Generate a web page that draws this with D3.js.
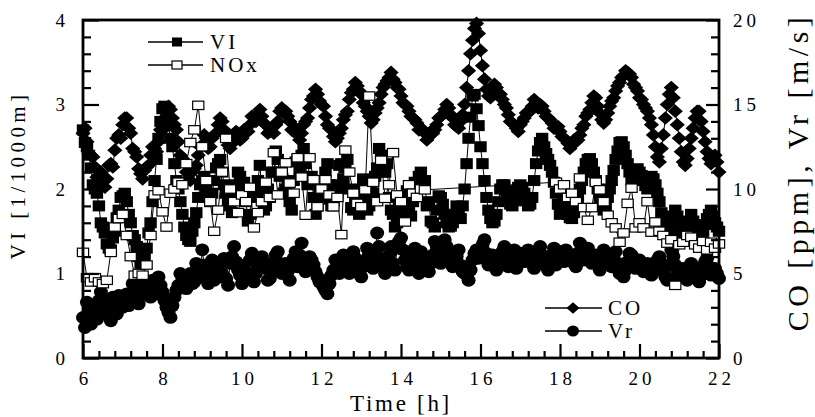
<!DOCTYPE html>
<html>
<head>
<meta charset="utf-8">
<script src="https://cdn.jsdelivr.net/npm/d3@7"></script>
<style>
  html, body { margin: 0; padding: 0; background: #fff; }
  svg { display: block; font-family: "Liberation Serif", "Times New Roman", serif; }
</style>
</head>
<body>
<svg id="chart" width="815" height="417"></svg>
<script>
// CO, VI and Vr are logged every 0.05 h, NOx every 0.1 h, from 6 h to 22 h
const startHour = 6;
const fineStep = 0.05;
const noxStep = 0.1;

// CO concentration [ppm] (right axis), one row per hour
const coValues = [
  13.3, 13.6, 12.8, 12.1, 12.0, 11.9, 11.3, 10.7, 10.8, 11.0, 10.4, 10.1, 10.6, 11.4, 11.5, 11.3, 12.3, 13.0, 13.2, 13.0,
  13.8, 14.2, 14.2, 13.6, 13.3, 12.4, 12.2, 11.9, 11.2, 10.9, 10.6, 11.1, 11.3, 11.4, 12.0, 12.5, 12.4, 12.2, 12.8, 13.5,
  13.5, 13.6, 14.3, 14.9, 14.7, 14.2, 13.8, 13.5, 12.8, 12.0, 11.8, 11.6, 11.0, 10.6, 10.5, 11.0, 11.2, 11.4, 12.0, 12.5,
  12.6, 13.2, 13.0, 12.4, 12.5, 13.0, 13.2, 13.3, 13.8, 14.2, 14.0, 13.5, 13.2, 12.6, 12.4, 12.9, 12.8, 13.4, 13.3, 12.9,
  13.0, 13.5, 13.4, 13.4, 13.8, 14.3, 14.2, 14.0, 14.4, 14.7, 14.3, 13.9, 13.8, 13.3, 13.4, 13.6, 13.3, 13.8, 14.0, 14.6,
  14.8, 14.5, 14.6, 14.3, 14.0, 13.5, 13.5, 13.6, 13.2, 12.9, 13.3, 13.8, 14.0, 14.2, 14.8, 15.3, 15.5, 15.9, 15.6, 15.2,
  15.0, 14.9, 14.3, 13.8, 13.6, 13.5, 13.1, 12.8, 13.0, 13.3, 13.6, 14.1, 14.4, 14.6, 15.3, 15.7, 15.9, 16.3, 16.1, 15.8,
  15.6, 15.1, 14.9, 14.6, 14.3, 13.9, 14.1, 14.5, 14.8, 15.1, 15.6, 16.0, 16.2, 16.4, 16.6, 16.9, 16.5, 16.3, 16.0, 15.9,
  15.5, 15.1, 15.0, 14.9, 14.6, 14.3, 14.2, 14.1, 13.9, 13.5, 13.6, 13.5, 13.3, 12.9, 13.1, 13.4, 13.3, 13.5, 13.8, 14.2,
  14.3, 14.4, 14.7, 15.0, 14.8, 14.4, 14.2, 13.8, 13.7, 13.6, 14.0, 14.4, 15.0, 16.0, 17.0, 18.0, 18.8, 19.5, 19.8, 19.2,
  18.2, 17.3, 16.5, 15.9, 15.5, 15.4, 15.8, 16.2, 16.0, 15.7, 15.6, 15.3, 15.0, 14.8, 14.4, 14.0, 13.9, 13.8, 13.6, 13.4,
  13.8, 14.0, 14.2, 14.5, 14.6, 14.6, 14.9, 15.3, 15.1, 14.8, 15.0, 14.9, 14.6, 14.3, 14.2, 14.1, 13.9, 13.6, 13.6, 13.7,
  13.4, 13.1, 13.0, 12.9, 12.7, 12.4, 12.6, 12.9, 12.8, 12.9, 13.2, 13.6, 13.8, 14.3, 14.5, 14.7, 15.1, 15.5, 15.4, 14.9,
  14.5, 14.1, 13.9, 14.1, 14.5, 14.9, 15.2, 15.4, 15.8, 16.1, 16.3, 16.6, 16.7, 17.0, 16.9, 16.8, 16.6, 16.2, 16.0, 15.8,
  15.4, 15.3, 15.0, 14.8, 14.6, 14.2, 13.8, 13.2, 12.5, 11.9, 11.6, 12.4, 13.2, 14.2, 15.0, 15.6, 16.0, 15.4, 14.6, 13.8,
  13.0, 12.2, 11.6, 11.4, 11.8, 12.4, 13.0, 13.6, 14.2, 14.6, 14.6, 14.0, 13.4, 12.8, 12.2, 11.8, 11.5, 11.9, 12.0, 11.6,
  11.0
];

// Visibility index VI [1/1000m] (left axis), one row per hour
const viValues = [
  2.7, 2.55, 2.5, 2.4, 2.25, 2.05, 2.0, 1.95, 1.8, 1.6, 1.55, 1.48, 1.35, 1.3, 1.28, 1.42, 1.5, 1.66, 1.75, 1.9,
  1.92, 1.95, 1.85, 1.7, 1.6, 1.45, 1.4, 1.32, 1.2, 1.12, 1.12, 1.18, 1.3, 1.48, 1.6, 1.85, 2.1, 2.35, 2.6, 2.8,
  2.95, 2.98, 2.9, 2.75, 2.6, 2.5, 2.3, 2.1, 2.0, 1.85, 1.7, 1.55, 1.45, 1.4, 1.38, 1.5, 1.6, 1.72, 1.9, 2.05,
  2.1, 2.15, 2.0, 1.9, 1.85, 1.95, 2.1, 2.25, 2.3, 2.35, 2.2, 2.05, 1.95, 1.85, 1.8, 1.72, 1.9, 2.05, 2.2, 2.15,
  2.0, 2.08, 1.85, 1.62, 1.7, 1.95, 1.9, 1.92, 2.1, 2.28, 2.0, 1.75, 1.8, 2.0, 1.9, 2.2, 2.2, 2.45, 2.35, 2.15,
  2.2, 1.95, 2.0, 2.08, 1.85, 1.75, 2.1, 2.32, 2.35, 2.2, 2.4, 2.48, 2.3, 2.05, 2.1, 2.15, 1.9, 1.7, 1.8, 2.0,
  2.0, 1.88, 2.2, 2.3, 2.05, 1.8, 1.85, 2.05, 2.0, 2.28, 2.3, 2.12, 2.25, 2.35, 2.0, 1.78, 1.75, 1.9, 1.8, 1.7,
  2.0, 2.12, 1.9, 1.75, 1.8, 2.02, 1.95, 2.15, 2.25, 2.48, 2.4, 2.2, 2.2, 2.3, 1.9, 1.75, 1.7, 1.55, 1.6, 1.8,
  1.75, 1.65, 1.9, 1.98, 1.75, 1.68, 1.85, 2.08, 2.05, 2.15, 2.2, 2.02, 2.1, 1.8, 1.85, 1.62, 1.6, 1.55, 1.75, 1.92,
  1.9, 1.82, 1.7, 1.6, 1.55, 1.56, 1.6, 1.7, 1.8, 1.75, 1.65, 1.8, 2.0, 2.3, 2.6, 2.85, 3.1, 3.12, 2.95, 2.75,
  2.5, 2.3, 2.1, 1.9, 1.75, 1.65, 1.6, 1.62, 1.7, 1.85, 2.0, 2.05, 2.05, 1.98, 1.9, 1.82, 1.8, 1.86, 1.95, 2.02,
  2.05, 2.02, 1.95, 1.86, 1.8, 1.82, 1.9, 2.1, 2.3, 2.45, 2.55, 2.6, 2.5, 2.42, 2.35, 2.28, 2.2, 2.08, 1.95, 1.82,
  1.7, 1.78, 1.85, 1.78, 1.7, 1.66, 1.65, 1.72, 1.8, 1.9, 2.0, 2.1, 2.2, 2.3, 2.35, 2.36, 2.3, 2.2, 2.1, 2.0,
  1.9, 1.8, 1.75, 1.8, 1.9, 2.0, 2.1, 2.22, 2.35, 2.45, 2.55, 2.56, 2.5, 2.4, 2.3, 2.2, 2.1, 2.14, 2.2, 2.24,
  2.2, 2.16, 2.1, 2.04, 2.0, 2.08, 2.15, 2.12, 2.05, 1.95, 1.85, 1.72, 1.6, 1.5, 1.45, 1.52, 1.6, 1.68, 1.75, 1.68,
  1.6, 1.52, 1.45, 1.48, 1.55, 1.62, 1.7, 1.62, 1.55, 1.46, 1.4, 1.44, 1.5, 1.58, 1.65, 1.7, 1.75, 1.68, 1.6, 1.55,
  1.5
];

// NOx (left axis), one row per hour; null where no reading was logged
const noxValues = [
  1.25, 0.95, 0.9, 0.95, 0.9, 0.88, 0.92, 1.25, 1.55, 1.65,
  1.7, 1.45, 1.2, 0.98, 1.0, 0.98, 1.1, 1.45, 1.93, 1.98,
  1.73, 1.55, 1.95, 2.0, 2.08, 2.05, 2.3, 2.55, 2.7, 2.99,
  2.5, 2.1, 1.85, 1.5, 1.75, 2.2, 2.6, 2.0, 1.85, 1.72,
  1.93, 1.85, 2.02, 1.54, 1.72, 1.85, 2.08, 1.9, 2.43, 1.93,
  2.2, 2.31, 2.07, 1.95, 2.37, 2.14, 1.69, 2.37, 2.11, 1.79,
  2.0, 2.11, 1.93, 1.79, 1.9, 1.46, 2.46, 2.2, 1.95, 1.83,
  1.79, 1.99, 3.1, 2.08, 1.85, 2.34, 1.89, 2.05, 2.43, 1.93,
  1.85, 1.61, 2.05, 1.95, 1.9, 2.0, 1.99, null, null, null,
  null, null, null, null, null, null, null, null, null, null,
  null, null, null, null, null, null, null, null, null, null,
  null, null, null, null, null, null, null, null, null, 2.08,
  2.0, 2.05, 1.9, 1.95, 1.85, 2.13, 1.78, 1.63, 1.78, 2.08,
  1.99, 1.85, 1.69, 1.6, 1.54, 1.37, 1.48, 1.83, 2.01, 1.54,
  1.6, 1.54, 1.85, 1.49, 1.61, 1.5, 1.45, 1.36, 1.4, 0.86,
  1.34, 1.37, 1.45, 1.43, 1.34, 1.3, 1.38, 1.28, 1.37, 1.3,
  1.35
];

// Wind speed Vr [m/s] (right axis), one row per hour
const vrValues = [
  2.4, 1.8, 3.3, 2.7, 2.0, 3.0, 2.9, 2.3, 3.4, 3.9, 2.6, 3.1, 3.5, 2.8, 2.2, 3.6, 3.3, 2.6, 3.7, 3.2,
  3.0, 3.5, 3.8, 3.1, 3.4, 4.4, 4.1, 3.6, 3.2, 3.8, 3.9, 4.5, 4.4, 3.7, 3.6, 4.6, 4.2, 3.8, 4.8, 4.3,
  3.9, 3.4, 3.0, 2.7, 2.4, 3.1, 3.6, 4.0, 4.3, 5.0, 4.7, 4.3, 4.1, 4.8, 5.0, 4.4, 4.5, 5.6, 5.3, 4.8,
  6.4, 5.5, 4.9, 4.4, 5.2, 5.8, 4.6, 5.1, 5.5, 4.8, 5.0, 5.9, 4.7, 4.3, 5.6, 6.0, 6.6, 5.7, 5.2, 4.9,
  4.4, 5.5, 5.1, 4.8, 5.8, 6.2, 4.5, 5.0, 5.4, 5.9, 6.0, 5.5, 5.3, 4.6, 4.7, 5.2, 5.7, 6.1, 6.3, 5.6,
  5.0, 5.3, 5.6, 5.1, 4.6, 5.4, 5.9, 6.3, 5.4, 6.1, 6.8, 5.9, 5.1, 5.5, 6.0, 5.8, 5.5, 5.1, 4.8, 4.5,
  4.6, 4.2, 4.0, 3.8, 4.4, 4.9, 5.2, 5.8, 5.6, 5.0, 5.3, 6.1, 5.9, 5.4, 5.0, 5.7, 6.3, 5.9, 5.5, 5.0,
  4.8, 5.4, 5.8, 6.5, 6.2, 5.6, 5.3, 6.3, 7.4, 6.6, 5.9, 5.4, 5.0, 5.6, 6.1, 6.6, 5.6, 5.2, 6.5, 6.9,
  7.1, 6.4, 5.8, 5.4, 5.2, 5.7, 6.0, 6.5, 5.5, 5.0, 6.3, 6.0, 5.7, 5.3, 5.1, 5.6, 6.1, 6.9, 6.6, 6.0,
  5.6, 6.3, 7.0, 6.6, 6.2, 5.8, 5.4, 5.9, 6.0, 6.4, 5.5, 5.1, 5.0, 5.4, 4.6, 5.2, 5.8, 6.2, 6.4, 5.9,
  6.3, 6.7, 7.0, 6.2, 5.5, 5.8, 6.1, 5.6, 5.2, 5.5, 5.9, 6.3, 6.6, 6.0, 5.4, 5.7, 6.0, 6.4, 5.3, 5.8,
  6.2, 5.9, 5.7, 6.1, 6.4, 6.0, 5.6, 5.3, 6.0, 6.3, 6.6, 6.1, 5.8, 5.5, 5.2, 5.7, 6.1, 6.5, 5.5, 5.9,
  6.3, 6.0, 5.7, 6.4, 6.2, 5.8, 6.1, 5.6, 5.4, 6.2, 6.8, 6.4, 5.8, 6.2, 6.5, 5.9, 5.6, 6.0, 6.1, 5.6,
  5.2, 5.8, 6.4, 6.1, 5.9, 5.5, 5.4, 5.9, 6.3, 5.6, 5.0, 5.3, 4.8, 5.2, 5.7, 6.2, 6.1, 5.7, 5.3, 5.6,
  5.8, 5.4, 5.1, 5.5, 5.6, 5.2, 4.9, 5.1, 5.4, 5.8, 6.0, 5.6, 5.2, 4.8, 4.6, 5.5, 6.4, 6.0, 5.5, 5.1,
  4.8, 5.0, 5.3, 4.9, 4.6, 5.1, 5.6, 5.3, 5.0, 4.7, 4.5, 4.9, 5.4, 5.7, 5.9, 5.4, 4.9, 5.0, 5.3, 5.0,
  4.7
];

// Axis tick labels
const hourTicks = [6, 8, 10, 12, 14, 16, 18, 20, 22];
const viTicks = [0, 1, 2, 3, 4];
const coTicks = [0, 5, 10, 15, 20];

// ---------------------------------------------------------------
const svg = d3.select("#chart");
const box = { left: 83, right: 719, top: 20, bottom: 358 };

const x = d3.scaleLinear().domain([6, 22]).range([box.left, box.right]);
const yL = d3.scaleLinear().domain([0, 4]).range([box.bottom, box.top]);
const yR = d3.scaleLinear().domain([0, 20]).range([box.bottom, box.top]);

const toPoints = (vals, step) => vals
  .map((v, i) => ({ t: startHour + i * step, v }))
  .filter(d => d.v !== null);

const coPts = toPoints(coValues, fineStep);
const viPts = toPoints(viValues, fineStep);
const vrPts = toPoints(vrValues, fineStep);
const noxPts = toPoints(noxValues, noxStep);

// marker half extents, px
const DIA_W = 7.6, DIA_H = 6.8;
const VI_W = 6.2, VI_H = 5.5;
const NOX_W = 5.6, NOX_H = 4.2;
const VR_RX = 7.0, VR_RY = 6.4;

const plot = svg.append("g");

function drawLine(pts, yScale) {
  plot.append("path")
    .datum(pts)
    .attr("fill", "none")
    .attr("stroke", "#000")
    .attr("stroke-width", 1)
    .attr("d", d3.line().x(d => x(d.t)).y(d => yScale(d.v)));
}

const diamond = (w, h) => `M0,${-h}L${w},0L0,${h}L${-w},0Z`;

// Vr: filled circles
drawLine(vrPts, yR);
plot.append("g").selectAll("ellipse").data(vrPts).join("ellipse")
  .attr("cx", d => x(d.t)).attr("cy", d => yR(d.v))
  .attr("rx", VR_RX).attr("ry", VR_RY).attr("fill", "#000");

// CO: filled diamonds
drawLine(coPts, yR);
plot.append("g").selectAll("path").data(coPts).join("path")
  .attr("transform", d => `translate(${x(d.t)},${yR(d.v)})`)
  .attr("d", diamond(DIA_W, DIA_H)).attr("fill", "#000");

// VI: filled squares
drawLine(viPts, yL);
plot.append("g").selectAll("rect").data(viPts).join("rect")
  .attr("x", d => x(d.t) - VI_W).attr("y", d => yL(d.v) - VI_H)
  .attr("width", 2 * VI_W).attr("height", 2 * VI_H).attr("fill", "#000");

// NOx: open squares
drawLine(noxPts, yL);
plot.append("g").selectAll("rect").data(noxPts).join("rect")
  .attr("x", d => x(d.t) - NOX_W).attr("y", d => yL(d.v) - NOX_H)
  .attr("width", 2 * NOX_W).attr("height", 2 * NOX_H)
  .attr("fill", "#fff").attr("stroke", "#000").attr("stroke-width", 1.2);

// ---------------------------------------------------------------
// Axes: ticks point inward, domain lines replaced by a frame
function styleAxis(g, fontSize, spacing) {
  g.select(".domain").remove();
  g.selectAll(".tick line").attr("stroke", "#000").attr("stroke-width", 2.2);
  g.selectAll(".tick text")
    .attr("fill", "#000")
    .style("font-size", fontSize + "px")
    .style("font-family", '"Liberation Serif", "Times New Roman", serif')
    .style("letter-spacing", spacing + "px");
}

const minorHours = d3.range(0, 41).map(i => 6 + i * 0.4).filter(h => Math.abs(h / 2 - Math.round(h / 2)) > 1e-6);
const minorVI = d3.range(0, 21).map(i => i * 0.2).filter(v => Math.abs(v - Math.round(v)) > 1e-6);
const minorCO = d3.range(0, 21).filter(v => v % 5 !== 0);

// bottom
svg.append("g").attr("transform", `translate(0,${box.bottom})`)
  .call(d3.axisBottom(x).tickValues(minorHours).tickSize(-7).tickFormat(""))
  .call(g => styleAxis(g, 18, 0));
svg.append("g").attr("transform", `translate(0,${box.bottom})`)
  .call(d3.axisBottom(x).tickValues(hourTicks).tickSize(-14).tickPadding(14).tickFormat(d3.format("d")))
  .call(g => styleAxis(g, 19, 4))
  .call(g => g.selectAll(".tick text").attr("dx", "2px"));

// left
svg.append("g").attr("transform", `translate(${box.left},0)`)
  .call(d3.axisLeft(yL).tickValues(minorVI).tickSize(-8).tickFormat(""))
  .call(g => styleAxis(g, 18, 0));
svg.append("g").attr("transform", `translate(${box.left},0)`)
  .call(d3.axisLeft(yL).tickValues(viTicks).tickSize(-16).tickPadding(18).tickFormat(d3.format("d")))
  .call(g => styleAxis(g, 19, 0));

// right
svg.append("g").attr("transform", `translate(${box.right},0)`)
  .call(d3.axisRight(yR).tickValues(minorCO).tickSize(-8).tickFormat(""))
  .call(g => styleAxis(g, 18, 0));
svg.append("g").attr("transform", `translate(${box.right},0)`)
  .call(d3.axisRight(yR).tickValues(coTicks).tickSize(-13).tickPadding(14).tickFormat(d3.format("d")))
  .call(g => styleAxis(g, 19, 4));

// frame
svg.append("rect")
  .attr("x", box.left).attr("y", box.top)
  .attr("width", box.right - box.left).attr("height", box.bottom - box.top)
  .attr("fill", "none").attr("stroke", "#000").attr("stroke-width", 2.8);

// ---------------------------------------------------------------
// Axis titles
svg.append("text")
  .attr("transform", "translate(25,175) rotate(-90)")
  .attr("text-anchor", "middle")
  .style("font-size", "21px").style("letter-spacing", "4.4px")
  .text("VI [1/1000m]");

svg.append("text")
  .attr("transform", "translate(808,172) rotate(-90)")
  .attr("text-anchor", "middle")
  .style("font-size", "30px").style("letter-spacing", "4.5px")
  .text("CO [ppm], Vr [m/s]");

svg.append("text")
  .attr("x", 401).attr("y", 411)
  .attr("text-anchor", "middle")
  .style("font-size", "23px").style("letter-spacing", "2.7px")
  .text("Time [h]");

// ---------------------------------------------------------------
// Legends
const legendTop = [
  { label: "VI", y: 42, mark: "solidSquare" },
  { label: "NOx", y: 65, mark: "openSquare" }
];
const legendBottom = [
  { label: "CO", y: 308, mark: "diamond" },
  { label: "Vr", y: 331, mark: "circle" }
];

function drawLegend(items, x0, x1, xm, xt) {
  const g = svg.append("g");
  items.forEach(it => {
    g.append("line").attr("x1", x0).attr("x2", x1).attr("y1", it.y).attr("y2", it.y)
      .attr("stroke", "#000").attr("stroke-width", 1.3);
    if (it.mark === "solidSquare") {
      g.append("rect").attr("x", xm - 5).attr("y", it.y - 4.5).attr("width", 10).attr("height", 9).attr("fill", "#000");
    } else if (it.mark === "openSquare") {
      g.append("rect").attr("x", xm - 5).attr("y", it.y - 4).attr("width", 10).attr("height", 8)
        .attr("fill", "#fff").attr("stroke", "#000").attr("stroke-width", 1.2);
    } else if (it.mark === "diamond") {
      g.append("path").attr("transform", `translate(${xm},${it.y})`).attr("d", diamond(6.5, 5.8)).attr("fill", "#000");
    } else {
      g.append("ellipse").attr("cx", xm).attr("cy", it.y).attr("rx", 6).attr("ry", 5.5).attr("fill", "#000");
    }
    g.append("text").attr("x", xt).attr("y", it.y + 7)
      .style("font-size", "21px").style("letter-spacing", "3px")
      .text(it.label);
  });
}
drawLegend(legendTop, 148, 203, 177, 210);
drawLegend(legendBottom, 545, 602, 573, 608);
</script>
</body>
</html>
